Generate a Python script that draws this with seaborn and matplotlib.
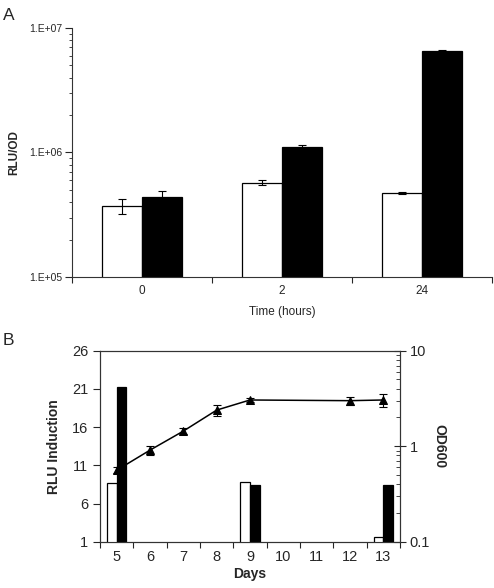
import pandas as pd
import numpy as np
import matplotlib
matplotlib.use("Agg")
import matplotlib.pyplot as plt
import seaborn as sns
from matplotlib.ticker import FixedLocator, NullFormatter

sns.set_style("ticks")
plt.rcParams["font.family"] = ["Liberation Sans", "DejaVu Sans"]

# --- Panel A: RLU/OD ueber die Zeit ---
TIME_LABELS = ["0", "2", "24"]
RLU_WHITE = [3.72e5, 5.72e5, 4.70e5]
RLU_WHITE_ERR = [0.5e5, 0.25e5, 0.1e5]
RLU_BLACK = [4.42e5, 1.10e6, 6.57e6]
RLU_BLACK_ERR = [0.5e5, 0.04e6, 0.06e6]
A_YTICKS = [1e5, 1e6, 1e7]
A_YTICKLABELS = ["1.E+05", "1.E+06", "1.E+07"]

# --- Panel B: RLU-Induktion und OD600 ueber Tage ---
DAYS = [5, 6, 7, 8, 9, 10, 11, 12, 13]
BAR_DAYS = [5, 9, 13]
IND_WHITE = [8.7, 8.8, 1.6]
IND_BLACK = [21.3, 8.4, 8.4]
OD_DAYS = [5, 6, 7, 8, 9, 12, 13]
OD_VALUES = [0.56, 0.91, 1.44, 2.39, 3.05, 3.0, 3.05]
OD_ERR = [0.04, 0.1, 0.1, 0.3, 0.12, 0.3, 0.5]
B_YTICKS = [1, 6, 11, 16, 21, 26]
B_Y2TICKS = [0.1, 1, 10]
B_Y2TICKLABELS = ["0.1", "1", "10"]

PALETTE = ["white", "black"]


def add_errorbars(ax, errs_per_hue):
    for container, errs in zip(ax.containers, errs_per_hue):
        xs = [p.get_x() + p.get_width() / 2 for p in container]
        ys = [p.get_height() for p in container]
        ax.errorbar(xs, ys, yerr=errs, fmt="none", ecolor="black",
                    elinewidth=0.8, capsize=3, capthick=0.8, zorder=5)


fig = plt.figure(figsize=(4.94, 5.88), dpi=100)

# ---------- Panel A ----------
axA = fig.add_axes([0.1457, 0.5289, 0.850, 0.4235])
dfA = pd.DataFrame({
    "time": TIME_LABELS * 2,
    "group": ["w"] * 3 + ["b"] * 3,
    "value": RLU_WHITE + RLU_BLACK,
})
sns.barplot(data=dfA, x="time", y="value", hue="group", order=TIME_LABELS,
            hue_order=["w", "b"], palette=PALETTE, edgecolor="black",
            linewidth=0.9, width=0.571, saturation=1, errorbar=None,
            legend=False, ax=axA)
add_errorbars(axA, [RLU_WHITE_ERR, RLU_BLACK_ERR])
axA.set_yscale("log")
axA.set_ylim(1e5, 1e7)
axA.set_xlim(-0.5, 2.5)
axA.yaxis.set_major_locator(FixedLocator(A_YTICKS))
axA.set_yticklabels(A_YTICKLABELS)
axA.yaxis.set_minor_formatter(NullFormatter())
axA.xaxis.set_minor_locator(FixedLocator(np.arange(-0.5, 3.0, 1.0)))
axA.tick_params(axis="x", which="major", length=0, pad=6, labelsize=8.5)
axA.tick_params(axis="x", which="minor", length=4, width=0.8)
axA.tick_params(axis="y", which="major", length=5, width=0.8, labelsize=7.5,
                pad=2)
axA.tick_params(axis="y", which="minor", length=2.5, width=0.6)
axA.set_xlabel("Time (hours)", fontsize=8.5, labelpad=6)
axA.set_ylabel("RLU/OD", fontsize=8.5, fontweight="bold")
axA.yaxis.set_label_coords(-0.122, 0.5)
for side in ["top", "right"]:
    axA.spines[side].set_visible(False)
for side in ["left", "bottom"]:
    axA.spines[side].set_linewidth(0.8)
    axA.spines[side].set_color("#333333")
fig.text(0.006, 0.966, "A", fontsize=12.5)

# ---------- Panel B ----------
axB = fig.add_axes([0.2024, 0.0787, 0.6073, 0.3248])
day_labels = [str(d) for d in DAYS]
dfB = pd.DataFrame({
    "day": [str(d) for d in BAR_DAYS] * 2,
    "group": ["w"] * 3 + ["b"] * 3,
    "value": IND_WHITE + IND_BLACK,
})
sns.barplot(data=dfB, x="day", y="value", hue="group", order=day_labels,
            hue_order=["w", "b"], palette=PALETTE, edgecolor="black",
            linewidth=0.9, width=0.571, saturation=1, errorbar=None,
            legend=False, ax=axB)
axB.set_ylim(1, 26)
axB.set_xlim(-0.5, len(DAYS) - 0.5)
axB.set_yticks(B_YTICKS)
axB.xaxis.set_minor_locator(FixedLocator(np.arange(-0.5, len(DAYS), 1.0)))
axB.tick_params(axis="x", which="major", length=0, pad=6, labelsize=10.5)
axB.tick_params(axis="x", which="minor", length=4, width=0.8)
axB.tick_params(axis="y", length=5, width=0.8, labelsize=10.5)
axB.set_xlabel("Days", fontsize=10, fontweight="bold", labelpad=2)
axB.set_ylabel("RLU Induction", fontsize=10, fontweight="bold", labelpad=8)

axB2 = axB.twinx()
od_pos = [DAYS.index(d) for d in OD_DAYS]
sns.lineplot(x=od_pos, y=OD_VALUES, ax=axB2, color="black", linewidth=1.1,
             marker="^", markersize=6, markeredgecolor="black")
axB2.errorbar(od_pos, OD_VALUES, yerr=OD_ERR, fmt="none", ecolor="black",
              elinewidth=0.8, capsize=3, capthick=0.8)
axB2.set_yscale("log")
axB2.set_ylim(0.1, 10)
axB2.yaxis.set_major_locator(FixedLocator(B_Y2TICKS))
axB2.set_yticklabels(B_Y2TICKLABELS)
axB2.yaxis.set_minor_formatter(NullFormatter())
axB2.tick_params(axis="y", which="major", direction="inout", length=8,
                 width=0.8, labelsize=10.5, pad=3)
axB2.tick_params(axis="y", which="minor", direction="in", length=3, width=0.6)
axB2.set_ylabel("OD600", fontsize=10, fontweight="bold", rotation=270,
                labelpad=12)

# Balken ueber der Linie zeichnen
axB.set_zorder(axB2.get_zorder() + 1)
axB.patch.set_visible(False)
for ax in (axB, axB2):
    for side in ax.spines:
        ax.spines[side].set_linewidth(0.8)
        ax.spines[side].set_color("#333333")
fig.text(0.006, 0.413, "B", fontsize=12.5)

plt.savefig("out.png", dpi=100)
plt.close()
